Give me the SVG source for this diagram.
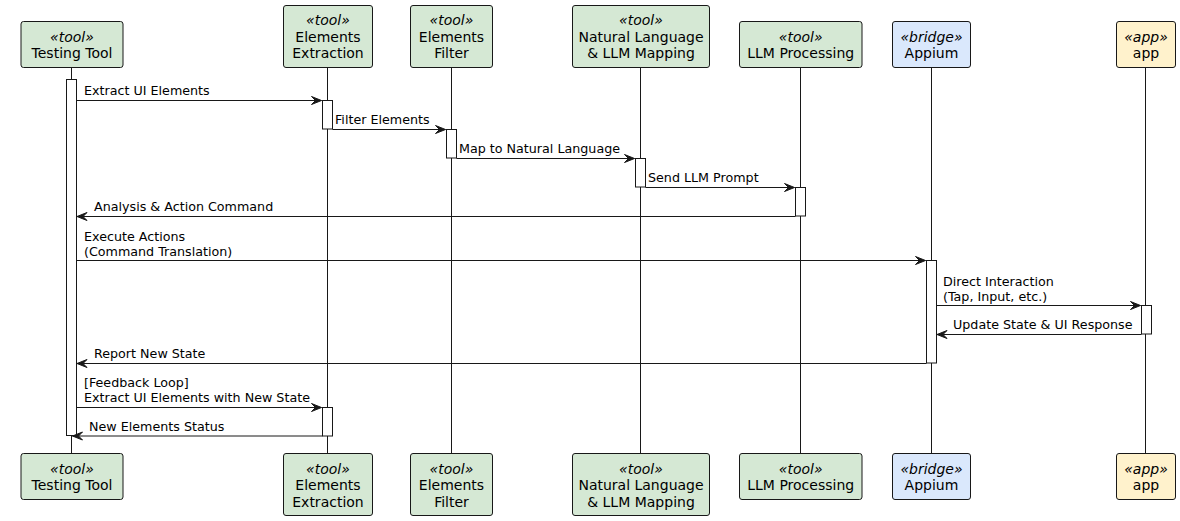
<svg xmlns="http://www.w3.org/2000/svg" width="1180" height="521" viewBox="0 0 1180 521">
<defs>
<style>
text{font-family:"DejaVu Sans","Verdana",sans-serif;fill:#000}
.st{font-size:14px;font-style:italic;text-anchor:middle}
.nm{font-size:14px;text-anchor:middle}
.msg{font-size:12.7px}
.tool{fill:#D5E8D4;stroke:#181818;stroke-width:1}
.bridge{fill:#DAE8FC;stroke:#181818;stroke-width:1}
.app{fill:#FFF2CC;stroke:#181818;stroke-width:1}
.life{stroke:#181818;stroke-width:1}
.act{fill:#fff;stroke:#181818;stroke-width:1}
.m{stroke:#181818;stroke-width:1;fill:none;marker-end:url(#ah)}
</style>
<marker id="ah" markerUnits="userSpaceOnUse" markerWidth="14" markerHeight="11" refX="11" refY="5" orient="auto" viewBox="0 0 14 11">
<path d="M1,1 L11,5 L1,9 L5,5 Z" fill="#181818" stroke="#181818" stroke-width="1" stroke-linejoin="miter"/>
</marker>
</defs>
<rect width="1180" height="521" fill="#fff"/>

<g id="lifelines">
<line class="life" x1="71.5" y1="67" x2="71.5" y2="453"/>
<line class="life" x1="327.5" y1="67" x2="327.5" y2="453"/>
<line class="life" x1="451.5" y1="67" x2="451.5" y2="453"/>
<line class="life" x1="640.5" y1="67" x2="640.5" y2="453"/>
<line class="life" x1="800.5" y1="67" x2="800.5" y2="453"/>
<line class="life" x1="931.5" y1="67" x2="931.5" y2="453"/>
<line class="life" x1="1145.5" y1="67" x2="1145.5" y2="453"/>
</g>

<g id="activations">
<rect class="act" x="66.5" y="79.5" width="10" height="356"/>
<rect class="act" x="322.5" y="100.5" width="10" height="28.5"/>
<rect class="act" x="446.5" y="129.5" width="10" height="28.5"/>
<rect class="act" x="635.5" y="158.5" width="10" height="28.5"/>
<rect class="act" x="795.5" y="187.5" width="10" height="28.5"/>
<rect class="act" x="926.5" y="260.5" width="10" height="102.5"/>
<rect class="act" x="1141.5" y="305.5" width="10" height="28.5"/>
<rect class="act" x="322.5" y="407.5" width="10" height="28.5"/>
</g>

<g id="p_testing">
<rect class="tool" x="21" y="21.5" width="102" height="46" rx="2.5"/>
<text class="st" x="72" y="41.5">«tool»</text>
<text class="nm" x="72" y="58">Testing Tool</text>
<rect class="tool" x="21" y="453.5" width="102" height="46" rx="2.5"/>
<text class="st" x="72" y="473.5">«tool»</text>
<text class="nm" x="72" y="490">Testing Tool</text>
</g>

<g id="p_extraction">
<rect class="tool" x="283.5" y="5.5" width="89" height="62" rx="2.5"/>
<text class="st" x="328" y="25">«tool»</text>
<text class="nm" x="328" y="41.5">Elements</text>
<text class="nm" x="328" y="58">Extraction</text>
<rect class="tool" x="283.5" y="453.5" width="89" height="62" rx="2.5"/>
<text class="st" x="328" y="473.5">«tool»</text>
<text class="nm" x="328" y="490">Elements</text>
<text class="nm" x="328" y="506.5">Extraction</text>
</g>

<g id="p_filter">
<rect class="tool" x="410.5" y="5.5" width="82" height="62" rx="2.5"/>
<text class="st" x="451.5" y="25">«tool»</text>
<text class="nm" x="451.5" y="41.5">Elements</text>
<text class="nm" x="451.5" y="58">Filter</text>
<rect class="tool" x="410.5" y="453.5" width="82" height="62" rx="2.5"/>
<text class="st" x="451.5" y="473.5">«tool»</text>
<text class="nm" x="451.5" y="490">Elements</text>
<text class="nm" x="451.5" y="506.5">Filter</text>
</g>

<g id="p_nlmapping">
<rect class="tool" x="572.5" y="5.5" width="137" height="62" rx="2.5"/>
<text class="st" x="641" y="25">«tool»</text>
<text class="nm" x="641" y="41.5">Natural Language</text>
<text class="nm" x="641" y="58">&amp; LLM Mapping</text>
<rect class="tool" x="572.5" y="453.5" width="137" height="62" rx="2.5"/>
<text class="st" x="641" y="473.5">«tool»</text>
<text class="nm" x="641" y="490">Natural Language</text>
<text class="nm" x="641" y="506.5">&amp; LLM Mapping</text>
</g>

<g id="p_llm">
<rect class="tool" x="739.5" y="21.5" width="122.5" height="46" rx="2.5"/>
<text class="st" x="800.7" y="41.5">«tool»</text>
<text class="nm" x="800.7" y="58">LLM Processing</text>
<rect class="tool" x="739.5" y="453.5" width="122.5" height="46" rx="2.5"/>
<text class="st" x="800.7" y="473.5">«tool»</text>
<text class="nm" x="800.7" y="490">LLM Processing</text>
</g>

<g id="p_appium">
<rect class="bridge" x="892.5" y="21.5" width="78" height="46" rx="2.5"/>
<text class="st" x="931.5" y="41.5">«bridge»</text>
<text class="nm" x="931.5" y="58">Appium</text>
<rect class="bridge" x="892.5" y="453.5" width="78" height="46" rx="2.5"/>
<text class="st" x="931.5" y="473.5">«bridge»</text>
<text class="nm" x="931.5" y="490">Appium</text>
</g>

<g id="p_app">
<rect class="app" x="1116.5" y="21.5" width="59" height="46" rx="2.5"/>
<text class="st" x="1146" y="41.5">«app»</text>
<text class="nm" x="1146" y="58">app</text>
<rect class="app" x="1116.5" y="453.5" width="59" height="46" rx="2.5"/>
<text class="st" x="1146" y="473.5">«app»</text>
<text class="nm" x="1146" y="490">app</text>
</g>

<g id="messages">
<line class="m" x1="76.5" y1="100.5" x2="321.5" y2="100.5"/>
<text class="msg" x="84" y="95">Extract UI Elements</text>
<line class="m" x1="332.5" y1="129.5" x2="445.5" y2="129.5"/>
<text class="msg" x="335" y="124">Filter Elements</text>
<line class="m" x1="456.5" y1="158.5" x2="634.5" y2="158.5"/>
<text class="msg" x="459" y="153">Map to Natural Language</text>
<line class="m" x1="645.5" y1="187.5" x2="794.5" y2="187.5"/>
<text class="msg" x="648" y="182">Send LLM Prompt</text>
<line class="m" x1="795.5" y1="216.5" x2="77" y2="216.5"/>
<text class="msg" x="94" y="211">Analysis &amp; Action Command</text>
<line class="m" x1="76.5" y1="260.5" x2="925.5" y2="260.5"/>
<text class="msg" x="84" y="241">Execute Actions</text>
<text class="msg" x="84" y="256">(Command Translation)</text>
<line class="m" x1="936.5" y1="305.5" x2="1140.5" y2="305.5"/>
<text class="msg" x="943" y="285.5">Direct Interaction</text>
<text class="msg" x="943" y="300.5">(Tap, Input, etc.)</text>
<line class="m" x1="1141.5" y1="334.5" x2="937" y2="334.5"/>
<text class="msg" x="953" y="329">Update State &amp; UI Response</text>
<line class="m" x1="926.5" y1="363.5" x2="77" y2="363.5"/>
<text class="msg" x="94" y="358">Report New State</text>
<line class="m" x1="76.5" y1="407.5" x2="321.5" y2="407.5"/>
<text class="msg" x="84" y="387">[Feedback Loop]</text>
<text class="msg" x="84" y="402">Extract UI Elements with New State</text>
<line class="m" x1="322.5" y1="436" x2="72.5" y2="436"/>
<text class="msg" x="89" y="431">New Elements Status</text>
</g>
</svg>
